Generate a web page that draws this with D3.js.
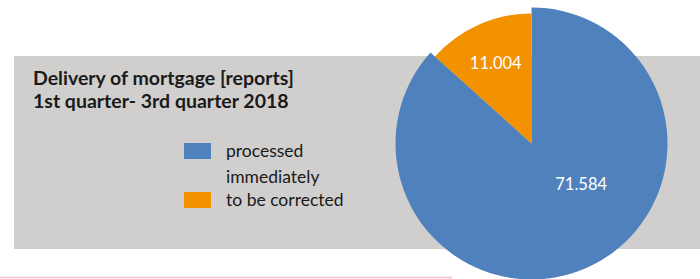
<!DOCTYPE html>
<html>
<head>
<meta charset="utf-8">
<script src="https://cdn.jsdelivr.net/npm/d3@7"></script>
<style>
  html, body { margin: 0; padding: 0; background: #fff; }
  svg { display: block; }
</style>
</head>
<body>
<svg id="chart"></svg>
<script>
const categories = ['processed immediately', 'to be corrected'],
    values = [71584, 11004],
    valueLabels = ['71.584', '11.004'],
    colors = ['#4f81bd', '#f29200'],
    titleLines = ['Delivery of mortgage [reports]', '1st quarter- 3rd quarter 2018'],
    legendLines = [['processed', 'immediately'], ['to be corrected']];

const width = 700, height = 279,
    svg = d3.select('svg#chart')
        .attr('width', width)
        .attr('height', height);

// background panel and the thin rule below it
svg.append('rect')
    .attr('x', 14).attr('y', 56)
    .attr('width', width - 14).attr('height', 193)
    .attr('fill', '#d0cfce');

svg.append('line')
    .attr('x1', 0).attr('x2', 452)
    .attr('y1', 277.5).attr('y2', 277.5)
    .attr('stroke', '#f2c4c9')
    .attr('stroke-width', 1.5);

// title
svg.append('g')
    .selectAll('text')
    .data(titleLines)
    .join('text')
    .attr('x', 33)
    .attr('y', (d, i) => 85 + i * 23)
    .attr('font-family', 'Lato, sans-serif')
    .attr('font-weight', 'bold')
    .attr('font-size', 19.5)
    .attr('fill', '#1a1a1a')
    .text(d => d);

// pie
const cx = 531.5, cy = 143.5,
    radius = 136;

const pie = d3.pie().sort(null).value(d => d)(values);

// the small slice is drawn a little short of the full radius
const outerR = [radius, radius - 6];

const pieG = svg.append('g').attr('transform', `translate(${cx},${cy})`);

pieG.selectAll('path')
    .data(pie)
    .join('path')
    .attr('d', (d, i) => d3.arc().innerRadius(0).outerRadius(outerR[i])(d))
    .attr('fill', (d, i) => colors[i]);

// labels: angle offset from slice middle and distance from centre
const labelAt = [{ da: -0.47, r: 64 }, { da: 0, r: 88 }];

pieG.selectAll('text')
    .data(pie)
    .join('text')
    .attr('x', (d, i) => Math.sin((d.startAngle + d.endAngle) / 2 + labelAt[i].da) * labelAt[i].r)
    .attr('y', (d, i) => -Math.cos((d.startAngle + d.endAngle) / 2 + labelAt[i].da) * labelAt[i].r)
    .attr('dy', '0.35em')
    .attr('text-anchor', 'middle')
    .attr('font-family', 'Lato, sans-serif')
    .attr('font-size', 16.5)
    .attr('fill', '#fff')
    .text((d, i) => valueLabels[i]);

// legend
const legendY = d3.scalePoint().domain(categories).range([151, 200]);

const legend = svg.append('g')
    .selectAll('g')
    .data(categories)
    .join('g')
    .attr('transform', d => `translate(184,${legendY(d)})`);

legend.append('rect')
    .attr('x', 0).attr('y', -8)
    .attr('width', 27).attr('height', 16)
    .attr('fill', (d, i) => colors[i]);

legend.append('text')
    .attr('x', 42)
    .attr('y', 0)
    .attr('font-family', 'Lato, sans-serif')
    .attr('font-size', 17.5)
    .attr('fill', '#1a1a1a')
    .selectAll('tspan')
    .data((d, i) => legendLines[i])
    .join('tspan')
    .attr('x', 42)
    .attr('dy', (d, j) => j === 0 ? '0.35em' : 26)
    .text(d => d);
</script>
</body>
</html>
